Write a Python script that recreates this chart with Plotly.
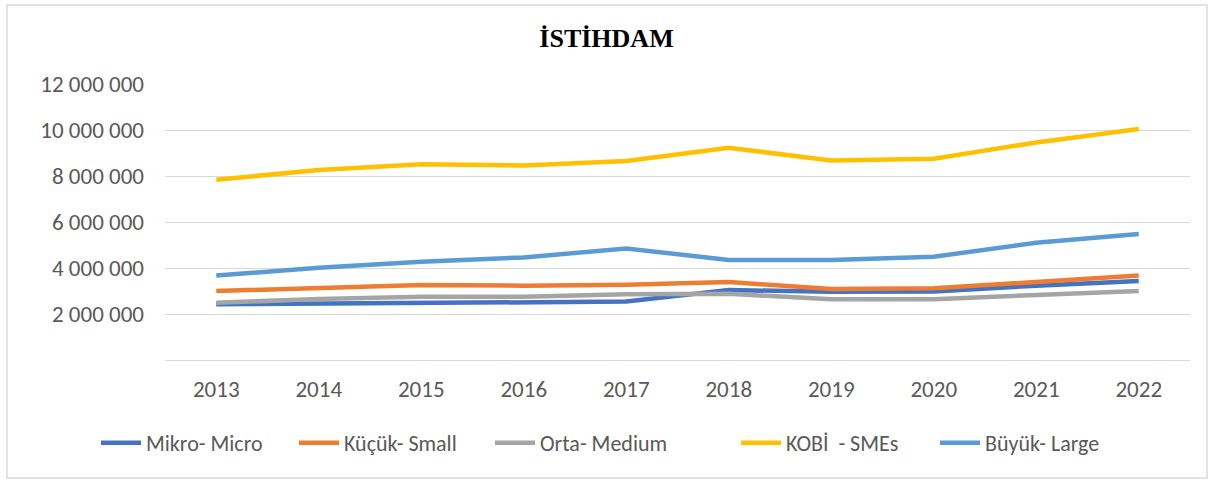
import plotly.graph_objects as go

years = ["2013", "2014", "2015", "2016", "2017", "2018", "2019", "2020", "2021", "2022"]
mikro = [2420000, 2450000, 2510000, 2510000, 2540000, 3040000, 2970000, 2980000, 3230000, 3430000]
kucuk = [3000000, 3140000, 3260000, 3230000, 3270000, 3390000, 3090000, 3120000, 3410000, 3670000]
orta = [2490000, 2650000, 2750000, 2750000, 2860000, 2880000, 2640000, 2640000, 2830000, 3000000]
kobi = [7840000, 8260000, 8510000, 8460000, 8650000, 9230000, 8670000, 8750000, 9460000, 10040000]
buyuk = [3670000, 4010000, 4270000, 4460000, 4850000, 4350000, 4350000, 4490000, 5100000, 5480000]

series_names = ["Mikro- Micro", "Küçük- Small", "Orta- Medium", "KOBİ  - SMEs", "Büyük- Large"]
series_vals = [mikro, kucuk, orta, kobi, buyuk]
colors = ["#4472C4", "#ED7D31", "#A5A5A5", "#FFC000", "#5B9BD5"]

y_tickvals = [0, 2000000, 4000000, 6000000, 8000000, 10000000, 12000000]
y_ticktext = ["", "2 000 000", "4 000 000", "6 000 000", "8 000 000", "10 000 000", "12 000 000"]

W, H = 1213, 484
L, R, T, B = 165, 23, 84, 124
pw, ph = W - L - R, H - T - B

def px_x(x):
    return (x - L) / pw

def px_y(y):
    return (H - B - y) / ph

# legend text start positions in the reference (pixels)
legend_text_x = [146, 344, 540, 786, 985]
legend_ids = ["legend", "legend2", "legend3", "legend4", "legend5"]

fig = go.Figure()
for name, vals, col, lid in zip(series_names, series_vals, colors, legend_ids):
    fig.add_trace(go.Scatter(x=years, y=vals, mode="lines", name=name, legend=lid,
                             line=dict(color=col, width=4.5)))

legend_layouts = {}
for lid, tx in zip(legend_ids, legend_text_x):
    legend_layouts[lid] = dict(orientation="h", x=px_x(tx - 50), xanchor="left",
                               y=px_y(443), yanchor="middle", bgcolor="rgba(0,0,0,0)",
                               font=dict(size=22, color="#595959"), itemwidth=40)

fig.update_layout(
    width=W, height=H,
    margin=dict(l=L, r=R, t=T, b=B),
    paper_bgcolor="white", plot_bgcolor="white",
    font=dict(family="Calibri, Lato, sans-serif", size=23, color="#595959"),
    title=dict(text="<b>İSTİHDAM</b>", x=0.5, xanchor="center", y=1 - 38 / H, yanchor="middle",
               yref="container",
               font=dict(family="Times New Roman, Liberation Serif, serif", size=26, color="black")),
    xaxis=dict(type="category", range=[-0.5, 9.5], showgrid=False, showline=False,
               ticks="", ticklabelstandoff=13, zeroline=False),
    yaxis=dict(range=[0, 12000000], tickvals=y_tickvals, ticktext=y_ticktext,
               showgrid=True, gridcolor="#D9D9D9", gridwidth=1.3,
               zeroline=True, zerolinecolor="#D9D9D9", zerolinewidth=1.3,
               showline=False, ticks="", ticklabelstandoff=20),
    showlegend=True,
    shapes=[dict(type="rect", xref="paper", yref="paper",
                 x0=px_x(7), x1=px_x(1207), y0=px_y(478), y1=px_y(5),
                 line=dict(color="#D9D9D9", width=1.5), fillcolor="rgba(0,0,0,0)", layer="below")],
    **legend_layouts,
)

fig.write_html("out.html", config={"displayModeBar": False},
               post_script="document.body.style.margin='0';document.body.style.padding='0';")
